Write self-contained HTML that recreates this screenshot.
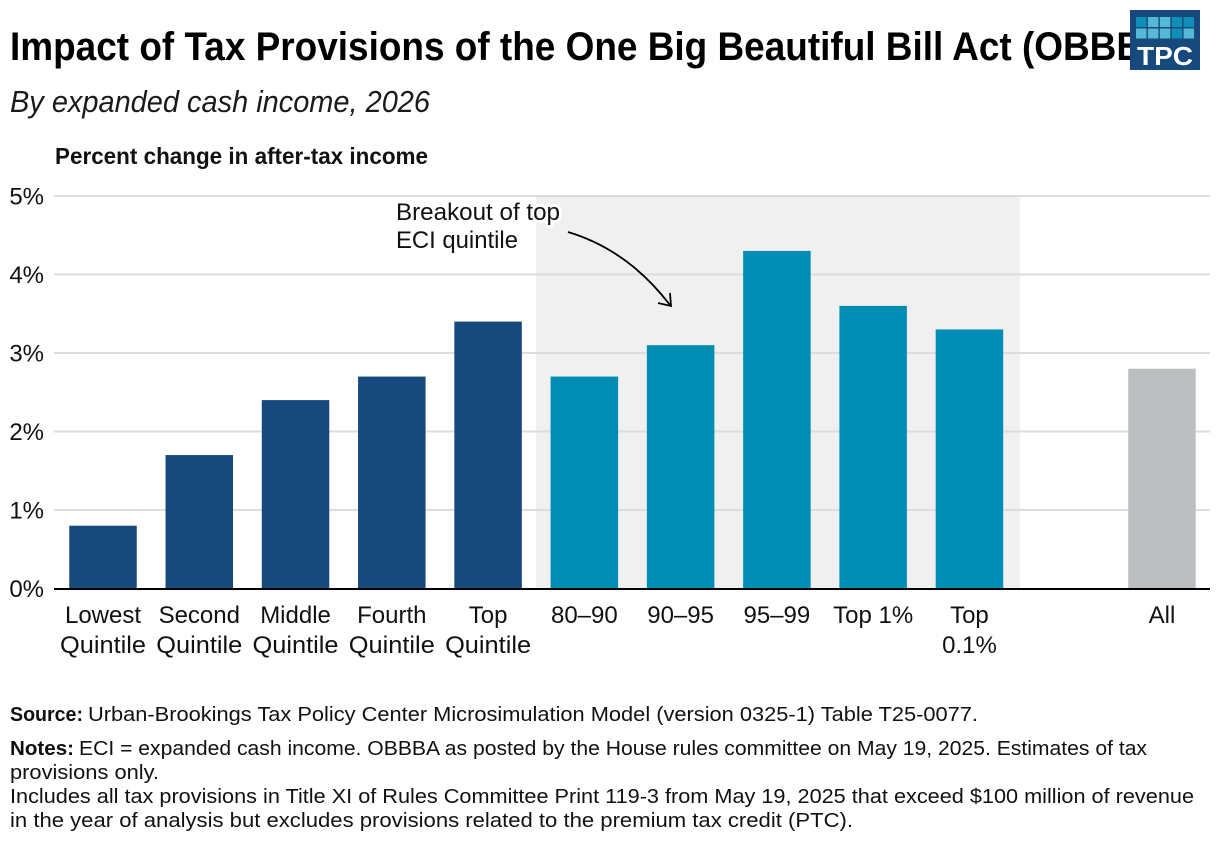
<!DOCTYPE html>
<html lang="en">
<head>
<meta charset="utf-8">
<title>Impact of Tax Provisions of the OBBBA</title>
<style>
html,body{margin:0;padding:0;background:#fff;}
svg{display:block;font-family:"Liberation Sans",sans-serif;}
</style>
</head>
<body>
<svg id="chart" width="1220" height="854" viewBox="0 0 1220 854" xmlns="http://www.w3.org/2000/svg">
  <rect width="1220" height="854" fill="#fff"/>
  <text x="10" y="60" font-size="40" font-weight="700" fill="#000" textLength="1172" lengthAdjust="spacingAndGlyphs">Impact of Tax Provisions of the One Big Beautiful Bill Act (OBBBA)</text>
  <text x="10" y="112" font-size="31" font-style="italic" fill="#1a1a1a" textLength="420" lengthAdjust="spacingAndGlyphs">By expanded cash income, 2026</text>
  <text x="55" y="164" font-size="23" font-weight="700" fill="#111" textLength="373" lengthAdjust="spacingAndGlyphs">Percent change in after-tax income</text>

  <g>
    <rect x="1130" y="10" width="70" height="60" fill="#174a7c"/>
    <g id="logo-squares"></g>
    <text x="1165" y="65" font-size="26" font-weight="700" fill="#fff" text-anchor="middle" textLength="56" lengthAdjust="spacingAndGlyphs">TPC</text>
  </g>

  <rect id="panel" fill="#f0f0f0"/>
  <g id="grid"></g>
  <g id="bars"></g>
  <rect id="axis" fill="#000"/>
  <g id="yticks"></g>
  <g id="xticks"></g>

  <g>
    <text x="396" y="220" font-size="24" fill="#111" stroke="#fff" stroke-width="6" stroke-linejoin="round" paint-order="stroke" textLength="164" lengthAdjust="spacingAndGlyphs">Breakout of top</text>
    <text x="396" y="248" font-size="24" fill="#111" textLength="122" lengthAdjust="spacingAndGlyphs">ECI quintile</text>
    <path d="M568 232 Q628 250 670 305 M658 303 L671 306 L670 293" fill="none" stroke="#000" stroke-width="1.8"/>
  </g>

  <g>
    <text x="10" y="721" font-size="20" font-weight="700" fill="#111" textLength="73" lengthAdjust="spacingAndGlyphs">Source:</text>
    <text x="88" y="721" font-size="20" fill="#111" textLength="890" lengthAdjust="spacingAndGlyphs">Urban-Brookings Tax Policy Center Microsimulation Model (version 0325-1) Table T25-0077.</text>
    <text x="10" y="755" font-size="20" font-weight="700" fill="#111" textLength="64" lengthAdjust="spacingAndGlyphs">Notes:</text>
    <text x="79" y="755" font-size="20" fill="#111" textLength="1068" lengthAdjust="spacingAndGlyphs">ECI = expanded cash income. OBBBA as posted by the House rules committee on May 19, 2025. Estimates of tax</text>
    <text x="10" y="779" font-size="20" fill="#111" textLength="149" lengthAdjust="spacingAndGlyphs">provisions only.</text>
    <text x="10" y="803" font-size="20" fill="#111" textLength="1184" lengthAdjust="spacingAndGlyphs">Includes all tax provisions in Title XI of Rules Committee Print 119-3 from May 19, 2025 that exceed $100 million of revenue</text>
    <text x="10" y="827" font-size="20" fill="#111" textLength="843" lengthAdjust="spacingAndGlyphs">in the year of analysis but excludes provisions related to the premium tax credit (PTC).</text>
  </g>
</svg>
<script>
const categories = [
  ["Lowest", "Quintile"], ["Second", "Quintile"], ["Middle", "Quintile"], ["Fourth", "Quintile"], ["Top", "Quintile"],
  ["80–90"], ["90–95"], ["95–99"], ["Top 1%"], ["Top", "0.1%"], [], ["All"]
];
const values = [0.8, 1.7, 2.4, 2.7, 3.4, 2.7, 3.1, 4.3, 3.6, 3.3, null, 2.8];
const groups = ["quintile", "quintile", "quintile", "quintile", "quintile", "breakout", "breakout", "breakout", "breakout", "breakout", "none", "all"];
const yTickValues = [0, 1, 2, 3, 4, 5];
const yTickLabels = ["0%", "1%", "2%", "3%", "4%", "5%"];
const logoPattern = [[0, 1, 1, 0, 0], [1, 1, 1, 0, 1]];

const NS = "http://www.w3.org/2000/svg";
const groupColor = { quintile: "#174a7c", breakout: "#008db3", all: "#bcbec0" };
const xScale = i => 103 + i * 96.27;
const yScale = v => 588.5 - v * 78.5;
const barWidth = 67.5;

function make(tag, parent, attrs) {
  const el = document.createElementNS(NS, tag);
  for (const k in attrs) el.setAttribute(k, attrs[k]);
  parent.appendChild(el);
  return el;
}

const panel = document.getElementById("panel");
panel.setAttribute("x", xScale(5) - 48.3);
panel.setAttribute("width", xScale(9) - xScale(5) + 98.9);
panel.setAttribute("y", yScale(5));
panel.setAttribute("height", yScale(0) - yScale(5));

const gridG = document.getElementById("grid");
const yticksG = document.getElementById("yticks");
yTickValues.forEach((v, i) => {
  if (v !== 0) {
    const line = make("rect", gridG, { x: 54, y: yScale(v) - 1, width: 1156, height: 2, fill: "#dcdcdc" });
    
    
  }
  const t = make("text", yticksG, { x: 44, y: yScale(v) + 8.5, "font-size": 24, fill: "#111", "text-anchor": "end" });
  
  
  t.textContent = yTickLabels[i];
});

const barsG = document.getElementById("bars");
const xticksG = document.getElementById("xticks");
values.forEach((v, i) => {
  if (v !== null) {
    const bar = make("rect", barsG, {
      x: xScale(i) - barWidth / 2, y: yScale(v), width: barWidth,
      height: yScale(0) - yScale(v), fill: groupColor[groups[i]]
    });
    
    
  }
  categories[i].forEach((line, j) => {
    const t = make("text", xticksG, {
      x: xScale(i), y: 623 + j * 30, "font-size": 24, fill: "#111", "text-anchor": "middle"
    });
    if (line === "Quintile") {
      t.setAttribute("textLength", 86);
      t.setAttribute("lengthAdjust", "spacingAndGlyphs");
    }
    
    
    t.textContent = line;
  });
});

const axis = document.getElementById("axis");
axis.setAttribute("x", 54);
axis.setAttribute("y", yScale(0) - 0.5);
axis.setAttribute("width", 1156);
axis.setAttribute("height", 2);

const logoG = document.getElementById("logo-squares");
logoPattern.forEach((row, r) => {
  row.forEach((light, c) => {
    const sq = make("rect", logoG, {
      x: 1136 + c * 11.9, y: 17 + r * 11.5, width: 10.5, height: 10,
      fill: light ? "#55b8d4" : "#0f8fb5"
    });
    
    
  });
});
</script>
</body>
</html>
